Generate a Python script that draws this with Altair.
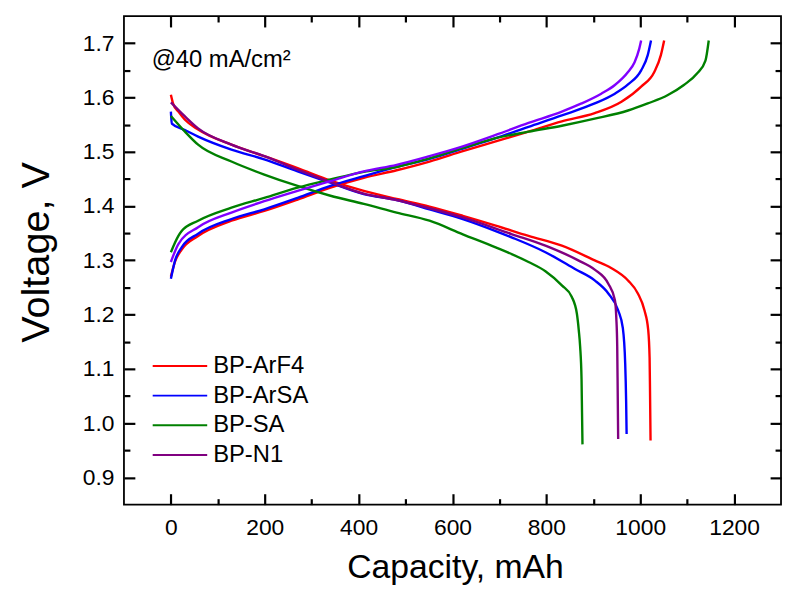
import altair as alt
import pandas as pd

FONT = "Liberation Sans, Arial, Helvetica, sans-serif"

SERIES = ["BP-ArF4", "BP-ArSA", "BP-SA", "BP-N1"]
COLORS = ["#ff0000", "#0000ff", "#008000", "#800080"]
N1_CHARGE_KEY = "BP-N1 (charge)"
N1_CHARGE_COLOR = "#8000ff"
ANNOTATION = "@40 mA/cm²"

# ---- discharge curves (capacity mAh, voltage V) ----
arf4_dis_cap = [0, 5, 16, 30, 58, 129, 199, 270, 340, 411, 481, 551, 622, 692, 762, 833, 903, 938, 974, 995, 1009, 1017, 1020, 1021, 1022]
arf4_dis_v = [1.605, 1.588, 1.574, 1.559, 1.541, 1.513, 1.492, 1.470, 1.447, 1.428, 1.413, 1.399, 1.382, 1.364, 1.345, 1.327, 1.300, 1.286, 1.263, 1.239, 1.208, 1.172, 1.12, 1.05, 0.968]

arsa_dis_cap = [0, 2, 30, 58, 129, 199, 270, 340, 411, 481, 551, 622, 692, 727, 798, 861, 903, 932, 953, 963, 968, 970, 971]
arsa_dis_v = [1.574, 1.552, 1.540, 1.528, 1.504, 1.486, 1.464, 1.443, 1.422, 1.411, 1.394, 1.376, 1.354, 1.342, 1.315, 1.284, 1.263, 1.239, 1.208, 1.175, 1.11, 1.04, 0.980]

sa_dis_cap = [0, 30, 58, 129, 199, 270, 340, 411, 481, 551, 622, 692, 762, 798, 833, 854, 865, 869, 872, 875, 876, 877]
sa_dis_v = [1.566, 1.537, 1.513, 1.482, 1.458, 1.437, 1.419, 1.404, 1.388, 1.373, 1.348, 1.324, 1.297, 1.280, 1.254, 1.233, 1.202, 1.172, 1.141, 1.080, 1.02, 0.961]

n1_dis_cap = [0, 30, 58, 129, 199, 270, 340, 411, 481, 551, 622, 727, 798, 868, 903, 932, 946, 949, 951, 952, 953]
n1_dis_v = [1.591, 1.565, 1.543, 1.513, 1.492, 1.467, 1.444, 1.423, 1.411, 1.396, 1.379, 1.348, 1.327, 1.300, 1.283, 1.257, 1.227, 1.195, 1.141, 1.06, 0.971]

# ---- charge curves ----
arf4_chg_cap = [0, 9, 23, 58, 129, 199, 270, 340, 411, 481, 551, 622, 692, 762, 833, 903, 960, 1002, 1030, 1044, 1051]
arf4_chg_v = [1.270, 1.298, 1.320, 1.345, 1.373, 1.391, 1.412, 1.434, 1.452, 1.466, 1.482, 1.501, 1.519, 1.537, 1.556, 1.571, 1.592, 1.620, 1.647, 1.678, 1.705]

arsa_chg_cap = [0, 9, 23, 58, 129, 199, 270, 340, 411, 481, 551, 622, 692, 762, 833, 903, 946, 974, 1002, 1016, 1023]
arsa_chg_v = [1.266, 1.300, 1.324, 1.349, 1.376, 1.394, 1.415, 1.437, 1.455, 1.472, 1.487, 1.506, 1.525, 1.546, 1.567, 1.589, 1.607, 1.624, 1.650, 1.678, 1.705]

sa_chg_cap = [0, 16, 23, 58, 129, 199, 270, 340, 411, 481, 551, 622, 692, 762, 833, 903, 974, 1016, 1058, 1093, 1121, 1139, 1146]
sa_chg_v = [1.315, 1.345, 1.354, 1.373, 1.397, 1.415, 1.434, 1.449, 1.463, 1.472, 1.488, 1.507, 1.525, 1.537, 1.548, 1.561, 1.576, 1.589, 1.604, 1.623, 1.644, 1.668, 1.705]

n1_chg_cap = [0, 16, 58, 129, 199, 270, 340, 411, 481, 551, 622, 692, 762, 833, 875, 917, 946, 974, 988, 998, 1002]
n1_chg_v = [1.297, 1.330, 1.361, 1.388, 1.409, 1.428, 1.446, 1.464, 1.476, 1.492, 1.510, 1.531, 1.553, 1.574, 1.589, 1.607, 1.623, 1.647, 1.665, 1.690, 1.705]

X_DOMAIN = [-100, 1300]
Y_DOMAIN = [0.85, 1.75]
X_MAJOR = [0, 200, 400, 600, 800, 1000, 1200]
X_MINOR = [100, 300, 500, 700, 900, 1100]
Y_MAJOR = [0.9, 1.0, 1.1, 1.2, 1.3, 1.4, 1.5, 1.6, 1.7]
Y_MINOR = [0.95, 1.05, 1.15, 1.25, 1.35, 1.45, 1.55, 1.65]

rows = []


def add(series, key, phase, caps, volts):
    for c, v in zip(caps, volts):
        rows.append({"series": series, "key": key, "curve": series + " " + phase, "cap": c, "V": v})


add("BP-ArF4", "BP-ArF4", "dis", arf4_dis_cap, arf4_dis_v)
add("BP-ArF4", "BP-ArF4", "chg", arf4_chg_cap, arf4_chg_v)
add("BP-ArSA", "BP-ArSA", "dis", arsa_dis_cap, arsa_dis_v)
add("BP-ArSA", "BP-ArSA", "chg", arsa_chg_cap, arsa_chg_v)
add("BP-SA", "BP-SA", "dis", sa_dis_cap, sa_dis_v)
add("BP-SA", "BP-SA", "chg", sa_chg_cap, sa_chg_v)
add("BP-N1", "BP-N1", "dis", n1_dis_cap, n1_dis_v)
add("BP-N1", N1_CHARGE_KEY, "chg", n1_chg_cap, n1_chg_v)
df = pd.DataFrame(rows)

x_scale = alt.Scale(domain=X_DOMAIN, nice=False, zero=False)
y_scale = alt.Scale(domain=Y_DOMAIN, nice=False, zero=False)

MAJOR = 11
MINOR = 6
TW = 2.2


def tick_axis(orient, values, size):
    return alt.Axis(orient=orient, values=values, offset=-size, tickSize=size,
                    tickWidth=TW, tickColor="black", domain=False, grid=False,
                    labels=False, title=None)


x_axis_main = alt.Axis(orient="bottom", values=X_MAJOR, offset=-MAJOR, tickSize=MAJOR,
                       tickWidth=TW, tickColor="black", domain=False, grid=False,
                       labelFontSize=23, labelFont=FONT, labelColor="black", labelPadding=12,
                       labelOverlap=False, labelFlush=False, format="d",
                       title="Capacity, mAh", titleFontSize=34, titleFont=FONT,
                       titleFontWeight="normal", titleColor="black", titlePadding=12,
                       titleX=334)

y_axis_main = alt.Axis(orient="left", values=Y_MAJOR, offset=-MAJOR, tickSize=MAJOR,
                       tickWidth=TW, tickColor="black", domain=False, grid=False,
                       labelFontSize=23, labelFont=FONT, labelColor="black", labelPadding=10,
                       labelOverlap=False, labelFlush=False, format=".1f",
                       title="Voltage, V", titleFontSize=40, titleFont=FONT,
                       titleFontWeight="normal", titleColor="black", titlePadding=26,
                       titleY=238)

lines = alt.Chart(df).mark_line(strokeWidth=2.4, interpolate="monotone").encode(
    x=alt.X("cap:Q", scale=x_scale, axis=x_axis_main),
    y=alt.Y("V:Q", scale=y_scale, axis=y_axis_main),
    color=alt.Color(
        "key:N",
        scale=alt.Scale(domain=SERIES + [N1_CHARGE_KEY], range=COLORS + [N1_CHARGE_COLOR]),
        legend=alt.Legend(values=SERIES, orient="none", legendX=28, legendY=341,
                          title=None, symbolType="stroke", symbolSize=3025,
                          symbolStrokeWidth=2, labelFontSize=24, labelFont=FONT,
                          labelColor="black", clipHeight=24, rowPadding=6,
                          labelOffset=5, symbolOffset=0, padding=0),
    ),
    detail="curve:N",
)

carrier_df = pd.DataFrame({"cap": [X_MAJOR[0]], "V": [Y_MAJOR[1]]})


def carrier(xaxis, yaxis):
    return alt.Chart(carrier_df).mark_point(opacity=0).encode(
        x=alt.X("cap:Q", scale=x_scale, axis=xaxis),
        y=alt.Y("V:Q", scale=y_scale, axis=yaxis),
    )


c2 = carrier(tick_axis("bottom", X_MINOR, MINOR), tick_axis("left", Y_MINOR, MINOR))
c3 = carrier(tick_axis("top", X_MAJOR, MAJOR), tick_axis("right", Y_MAJOR, MAJOR))
c4 = carrier(tick_axis("top", X_MINOR, MINOR), tick_axis("right", Y_MINOR, MINOR))

txt = alt.Chart(pd.DataFrame({"label": [ANNOTATION]})).mark_text(
    align="left", baseline="alphabetic", fontSize=24, font=FONT, color="black"
).encode(x=alt.value(28), y=alt.value(51.5), text="label:N")

chart = alt.layer(lines, c2, c3, c4, txt).resolve_axis(
    x="independent", y="independent"
).properties(
    width=663, height=493,
    padding={"left": 117, "top": 5.5, "right": 2, "bottom": 82},
    autosize=alt.AutoSizeParams(type="none"),
    background="white",
).configure_view(stroke="black", strokeWidth=1.8)

chart.save("out.html", embed_options={"renderer": "svg", "actions": False})
